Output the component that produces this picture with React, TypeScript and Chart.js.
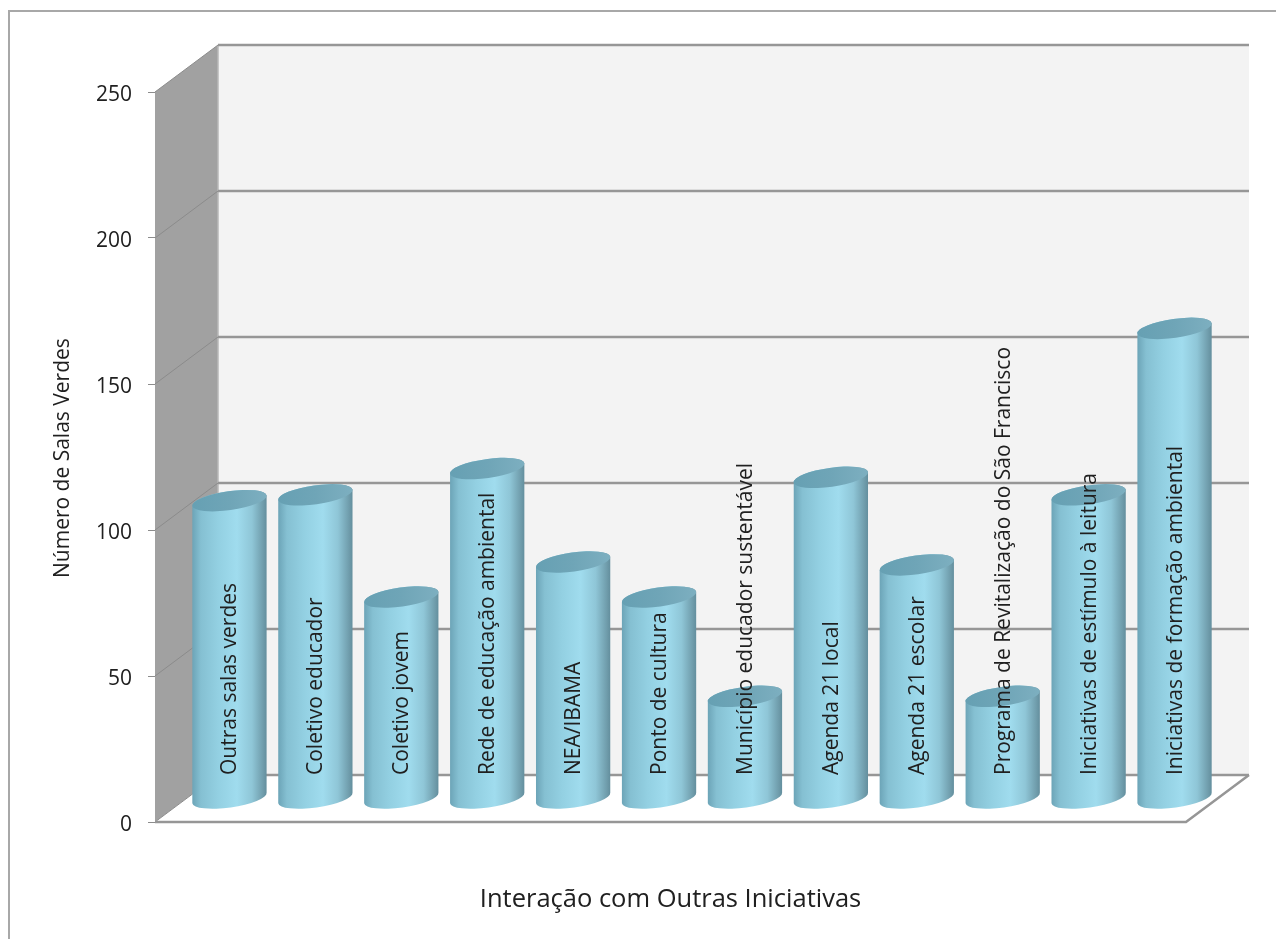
import React, { useEffect, useRef } from "react";
import { Chart, registerables } from "chart.js";

Chart.register(...registerables);

const categories = [
  "Outras salas verdes",
  "Coletivo educador",
  "Coletivo jovem",
  "Rede de educação ambiental",
  "NEA/IBAMA",
  "Ponto de cultura",
  "Município educador sustentável",
  "Agenda 21 local",
  "Agenda 21 escolar",
  "Programa de Revitalização do São Francisco",
  "Iniciativas de estímulo à leitura",
  "Iniciativas de formação ambiental",
];
const salasVerdes = [102, 104, 69, 113, 81, 69, 35, 110, 80, 35, 104, 161];
const yTicks = [0, 50, 100, 150, 200, 250];
const xTitle = "Interação com Outras Iniciativas";
const yTitle = "Número de Salas Verdes";

const FONT = "'Open Sans', sans-serif";
const TEXT = "#202020";
const DEPTH_X = 63;
const DEPTH_Y = 47;
const LINE = "#969696";

// Draws the box behind the bars: side wall, back wall, floor and value lines.
function drawBox(chart: any) {
  const { ctx, chartArea: a, scales } = chart;
  const y = scales.y;
  const dx = DEPTH_X;
  const dy = DEPTH_Y;
  ctx.save();

  ctx.fillStyle = "#f3f3f3";
  ctx.fillRect(a.left + dx, a.top - dy, a.right - a.left, a.bottom - a.top);

  ctx.fillStyle = "#a1a1a1";
  ctx.beginPath();
  ctx.moveTo(a.left, a.top);
  ctx.lineTo(a.left + dx, a.top - dy);
  ctx.lineTo(a.left + dx, a.bottom - dy);
  ctx.lineTo(a.left, a.bottom);
  ctx.closePath();
  ctx.fill();

  ctx.fillStyle = "#ffffff";
  ctx.beginPath();
  ctx.moveTo(a.left, a.bottom);
  ctx.lineTo(a.left + dx, a.bottom - dy);
  ctx.lineTo(a.right + dx, a.bottom - dy);
  ctx.lineTo(a.right, a.bottom);
  ctx.closePath();
  ctx.fill();

  ctx.strokeStyle = "#b8b8b8";
  ctx.lineWidth = 1.5;
  ctx.beginPath();
  ctx.moveTo(a.left + dx, a.top - dy);
  ctx.lineTo(a.left + dx, a.bottom - dy);
  ctx.stroke();

  yTicks.forEach((v) => {
    const py = y.getPixelForValue(v);
    ctx.strokeStyle = "#8b8b8b";
    ctx.lineWidth = 1;
    ctx.beginPath();
    ctx.moveTo(a.left, py);
    ctx.lineTo(a.left + dx, py - dy);
    ctx.stroke();
    ctx.strokeStyle = LINE;
    ctx.lineWidth = 2.5;
    ctx.beginPath();
    ctx.moveTo(a.left + dx, py - dy);
    ctx.lineTo(a.right + dx, py - dy);
    ctx.stroke();
  });

  ctx.strokeStyle = LINE;
  ctx.lineWidth = 2.5;
  ctx.beginPath();
  ctx.moveTo(a.left, a.bottom);
  ctx.lineTo(a.right, a.bottom);
  ctx.lineTo(a.right + dx, a.bottom - dy);
  ctx.stroke();
  ctx.restore();
}

// Draws one bar element as a cylinder standing halfway into the box.
function drawCylinder(ctx: CanvasRenderingContext2D, bar: any) {
  const cx = bar.x + DEPTH_X / 2;
  const topY = bar.y - DEPTH_Y / 2;
  const baseY = bar.base - DEPTH_Y / 2;
  const rx = bar.width / 2;
  const ry = 9.5;
  const tilt = -0.14;
  const sx = rx * Math.cos(tilt);
  const sy = rx * Math.sin(tilt);

  const body = ctx.createLinearGradient(cx - rx, 0, cx + rx, 0);
  body.addColorStop(0, "#6ba3b6");
  body.addColorStop(0.12, "#85c0d2");
  body.addColorStop(0.35, "#93d0e2");
  body.addColorStop(0.6, "#a0dcee");
  body.addColorStop(0.8, "#8fc6d7");
  body.addColorStop(0.95, "#6f9cab");
  body.addColorStop(1, "#628d9c");

  ctx.save();
  ctx.fillStyle = body;
  ctx.beginPath();
  ctx.moveTo(cx - sx, topY - sy);
  ctx.lineTo(cx - sx, baseY - sy);
  ctx.ellipse(cx, baseY, rx, ry, tilt, Math.PI, 0, true);
  ctx.lineTo(cx + sx, topY + sy);
  ctx.ellipse(cx, topY, rx, ry, tilt, 0, Math.PI, true);
  ctx.closePath();
  ctx.fill();

  const cap = ctx.createLinearGradient(cx - rx, 0, cx + rx, 0);
  cap.addColorStop(0, "#66a0b3");
  cap.addColorStop(0.5, "#6fa5b7");
  cap.addColorStop(1, "#7dafc0");
  ctx.fillStyle = cap;
  ctx.beginPath();
  ctx.ellipse(cx, topY, rx, ry, tilt, 0, Math.PI * 2);
  ctx.fill();
  ctx.restore();
}

const cylinderPlugin = {
  id: "cylinders",
  beforeDatasetsDraw: drawBox,
  beforeDatasetDraw(chart: any, args: any) {
    args.meta.data.forEach((bar: any) => drawCylinder(chart.ctx, bar));
    return false;
  },
  afterDatasetsDraw(chart: any) {
    const { ctx, chartArea: a } = chart;
    const meta = chart.getDatasetMeta(0);
    ctx.save();
    ctx.fillStyle = TEXT;
    ctx.textBaseline = "middle";
    ctx.textAlign = "left";
    ctx.font = `21px ${FONT}`;
    meta.data.forEach((bar: any, i: number) => {
      ctx.save();
      ctx.translate(bar.x + DEPTH_X / 2 + 1, a.bottom - DEPTH_Y);
      ctx.rotate(-Math.PI / 2);
      ctx.fillText(categories[i], 0, 0);
      ctx.restore();
    });
    // Value axis caption, reading upward beside the tick labels.
    ctx.font = `21px ${FONT}`;
    ctx.translate(63, 578);
    ctx.rotate(-Math.PI / 2);
    ctx.fillText(yTitle, 0, 0);
    ctx.restore();
  },
};

export default function App() {
  const ref = useRef<HTMLCanvasElement>(null);

  useEffect(() => {
    document.body.style.margin = "0";
    document.body.style.background = "#ffffff";
    const chart = new Chart(ref.current!, {
      type: "bar",
      data: {
        labels: categories,
        datasets: [
          {
            label: yTitle,
            data: salasVerdes,
            backgroundColor: "#93d0e2",
            categoryPercentage: 1,
            barPercentage: 0.873,
          },
        ],
      },
      options: {
        responsive: false,
        animation: false,
        layout: { padding: { top: 92, right: 90, left: 0, bottom: 0 } },
        plugins: { legend: { display: false }, tooltip: { enabled: false } },
        scales: {
          x: {
            type: "category",
            grid: { display: false },
            border: { display: false },
            ticks: { display: false },
            title: {
              display: true,
              text: xTitle,
              color: TEXT,
              font: { family: FONT, size: 25.5 },
              padding: { top: 0, bottom: 24 },
            },
            afterFit: (s: any) => {
              s.height = 117;
            },
          },
          y: {
            min: 0,
            max: 250,
            grid: {
              drawOnChartArea: false,
              drawTicks: true,
              tickLength: 7,
              color: "#8c8c8c",
            },
            border: { display: false },
            ticks: {
              stepSize: 50,
              padding: 16,
              labelOffset: 3,
              color: TEXT,
              font: { family: FONT, size: 21 },
            },
            afterFit: (s: any) => {
              s.width = 155;
            },
          },
        },
      },
      plugins: [cylinderPlugin],
    } as any);
    return () => chart.destroy();
  }, []);

  return (
    <div style={{ position: "relative", width: 1276, height: 939, overflow: "hidden" }}>
      <canvas ref={ref} width={1276} height={939} style={{ display: "block" }} />
      <div
        style={{
          position: "absolute",
          left: 8,
          top: 10,
          width: 1300,
          height: 1000,
          border: "2px solid #a8a8a8",
          boxSizing: "border-box",
          pointerEvents: "none",
        }}
      />
    </div>
  );
}
